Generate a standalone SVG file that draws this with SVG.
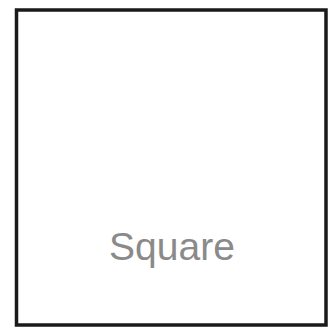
<svg xmlns="http://www.w3.org/2000/svg" width="334" height="334" viewBox="0 0 334 334">
<style>
.shape{fill:#ffffff;stroke:#1a1a1a;stroke-width:3.5}
.label{font-family:"Liberation Sans",Arial,sans-serif;font-size:39px;fill:#8a8a8a;text-anchor:middle}
</style>
<rect width="334" height="334" fill="#ffffff"/>
<g id="square">
<rect class="shape" x="16.5" y="10" width="309.5" height="315"/>
<text class="label" x="172" y="260">Square</text>
</g>
<g id="connectors"/>
</svg>
